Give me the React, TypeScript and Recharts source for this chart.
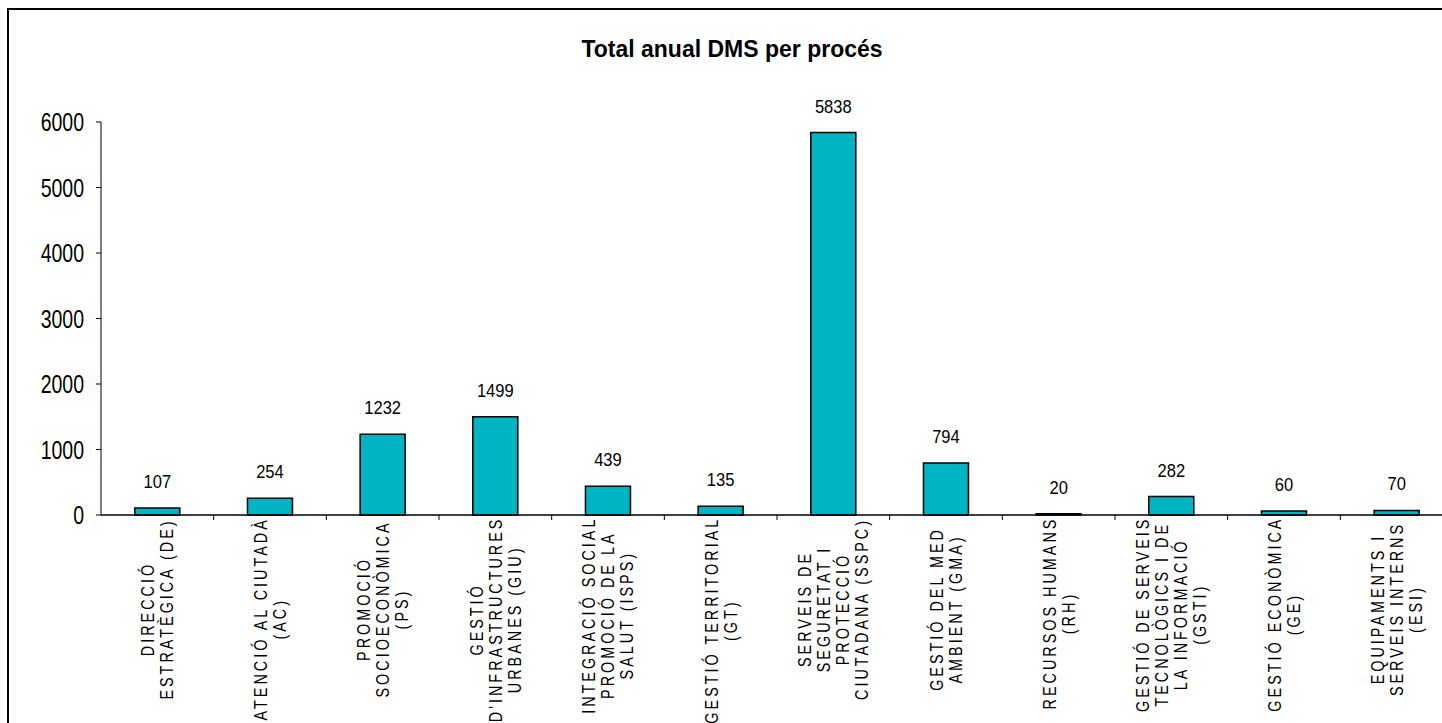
import { BarChart, Bar, XAxis, YAxis, LabelList } from 'recharts';

const processLabels: string[][] = [
     ['DIRECCIÓ', 'ESTRATÈGICA (DE)'],
     ['ATENCIÓ AL CIUTADÀ', '(AC)'],
     ['PROMOCIÓ', 'SOCIOECONÒMICA', '(PS)'],
     ['GESTIÓ', "D'INFRASTRUCTURES", 'URBANES (GIU)'],
     ['INTEGRACIÓ SOCIAL', 'PROMOCIÓ DE LA', 'SALUT (ISPS)'],
     ['GESTIÓ TERRITORIAL', '(GT)'],
     ['SERVEIS DE', 'SEGURETAT I', 'PROTECCIÓ', 'CIUTADANA (SSPC)'],
     ['GESTIÓ DEL MED', 'AMBIENT (GMA)'],
     ['RECURSOS HUMANS', '(RH)'],
     ['GESTIÓ DE SERVEIS', 'TECNOLÒGICS I DE', 'LA INFORMACIÓ', '(GSTI)'],
     ['GESTIÓ ECONÒMICA', '(GE)'],
     ['EQUIPAMENTS I', 'SERVEIS INTERNS', '(ESI)'],
];
const processCodes = ['DE', 'AC', 'PS', 'GIU', 'ISPS', 'GT', 'SSPC', 'GMA', 'RH', 'GSTI', 'GE', 'ESI'];
const totals = [107, 254, 1232, 1499, 439, 135, 5838, 794, 20, 282, 60, 70];
const yTicks = [0, 1000, 2000, 3000, 4000, 5000, 6000];

const data = processCodes.map((code, i) => ({ code, total: totals[i], lines: processLabels[i] }));

const FONT = '"Liberation Sans", Arial, sans-serif';
const CHART_W = 1460;
const CHART_H = 723;
const M_TOP = 122;
const M_RIGHT = 7;
const Y_W = 101;
const X_H = 208;
const PLOT_BOTTOM = CHART_H - X_H;
const BAND = (CHART_W - Y_W - M_RIGHT) / data.length;

// x labels: Excel-like condensed, letter-spaced, rotated text
const LBL_SIZE = 18;
const LBL_SCALE = 0.8;
const LBL_SPACING = 3;
const LINE_H = 19;
const LBL_MID = 609;

let ctx: CanvasRenderingContext2D | null = null;
function labelLength(s: string) {
     if (!ctx) {
          ctx = document.createElement('canvas').getContext('2d');
          if (ctx) ctx.font = `${LBL_SIZE}px "Liberation Sans"`;
     }
     const w = ctx ? ctx.measureText(s).width : s.length * 11;
     return w * LBL_SCALE + (s.length - 1) * LBL_SPACING;
}

const XTick = (props: any) => {
     const { x, index } = props;
     const lines: string[] = data[index]?.lines ?? [];
     const longest = Math.max(...lines.map(labelLength));
     const cy = Math.max(LBL_MID, PLOT_BOTTOM + 3 + longest / 2);
     const n = lines.length;
     return (
          <g>
               <line x1={x + BAND / 2} x2={x + BAND / 2} y1={PLOT_BOTTOM} y2={PLOT_BOTTOM + 5} stroke="#000" strokeWidth={1} />
               {lines.map((ln, i) => (
                    <text
                         key={i}
                         transform={`translate(${x + (i - (n - 1) / 2) * LINE_H},${cy}) rotate(-90) scale(${LBL_SCALE},1)`}
                         textAnchor="middle"
                         dy="0.36em"
                         fontSize={LBL_SIZE}
                         fontFamily={FONT}
                         letterSpacing={LBL_SPACING / LBL_SCALE}
                         fill="#000"
                    >
                         {ln}
                    </text>
               ))}
          </g>
     );
};

const YTick = (props: any) => {
     const { x, y, payload } = props;
     return (
          <text
               transform={`translate(${x},${y}) scale(0.75,1)`}
               textAnchor="end"
               dy="0.36em"
               fontSize={26}
               fontFamily={FONT}
               fill="#000"
          >
               {payload.value}
          </text>
     );
};

const ValueLabel = (props: any) => {
     const { x, y, width, value } = props;
     return (
          <text
               transform={`translate(${x + width / 2},${y - 20}) scale(0.92,1)`}
               textAnchor="middle"
               fontSize={18}
               fontFamily={FONT}
               fill="#000"
          >
               {value}
          </text>
     );
};

export default function App() {
     return (
          <div style={{ position: 'absolute', left: 0, top: 0, width: 1442, height: 723, overflow: 'hidden', background: '#fff' }}>
               <div
                    style={{
                         position: 'absolute',
                         left: 7,
                         top: 8,
                         width: 1500,
                         height: 800,
                         borderLeft: '2px solid #000',
                         borderTop: '2px solid #000',
                    }}
               />
               <div
                    style={{
                         position: 'absolute',
                         left: 0,
                         top: 37.5,
                         width: 1464,
                         textAlign: 'center',
                         fontFamily: FONT,
                         fontWeight: 'bold',
                         fontSize: 23,
                         lineHeight: '23px',
                         color: '#000',
                    }}
               >
                    Total anual DMS per procés
               </div>
               <div style={{ position: 'absolute', left: 0, top: 0 }}>
                    <BarChart
                         width={CHART_W}
                         height={CHART_H}
                         data={data}
                         margin={{ top: M_TOP, right: M_RIGHT, left: 0, bottom: 0 }}
                         barCategoryGap="30%"
                    >
                         <YAxis
                              width={Y_W}
                              domain={[0, 6000]}
                              ticks={yTicks}
                              interval={0}
                              axisLine={{ stroke: '#000', strokeWidth: 1 }}
                              tickLine={{ stroke: '#000', strokeWidth: 1 }}
                              tickSize={5}
                              tickMargin={12}
                              tick={<YTick />}
                         />
                         <XAxis
                              dataKey="code"
                              height={X_H}
                              interval={0}
                              axisLine={{ stroke: '#000', strokeWidth: 1.5 }}
                              tickLine={false}
                              tick={<XTick />}
                         />
                         <Bar dataKey="total" fill="#00B5C3" stroke="#000" strokeWidth={1.5} isAnimationActive={false}>
                              <LabelList dataKey="total" content={<ValueLabel />} />
                         </Bar>
                    </BarChart>
               </div>
          </div>
     );
}
